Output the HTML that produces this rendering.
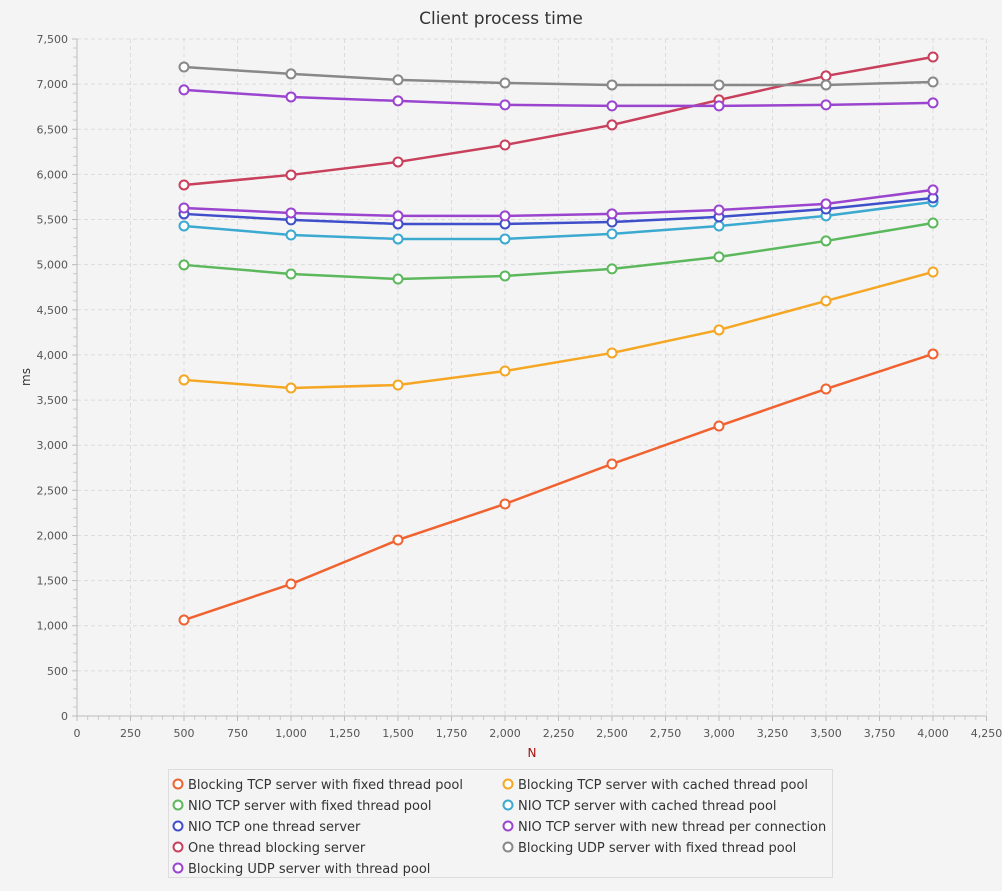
<!DOCTYPE html>
<html><head><meta charset="utf-8"><style>
body{margin:0;background:#f4f4f4;font-family:"Liberation Sans","DejaVu Sans",sans-serif}
svg text{font-family:"DejaVu Sans","Liberation Sans",sans-serif}
</style></head><body>
<svg id="chart" width="1002" height="886" xmlns="http://www.w3.org/2000/svg">
<rect width="1002" height="886" fill="#f4f4f4"/>
<text x="501" y="24" text-anchor="middle" font-size="17" fill="#333">Client process time</text>
<g id="grid"></g><g id="axes"></g><g id="series"></g>
<text transform="translate(30,377) rotate(-90)" text-anchor="middle" font-size="12" fill="#333">ms</text>
<text x="532" y="757" text-anchor="middle" font-size="12" fill="#a01010">N</text>
<rect x="168.5" y="769.5" width="664" height="108" fill="#f4f4f4" stroke="#ddd"/>
<g id="legend"></g>
</svg>
<script>
const categories=[500,1000,1500,2000,2500,3000,3500,4000];
const seriesNames=["Blocking TCP server with fixed thread pool","Blocking TCP server with cached thread pool","NIO TCP server with fixed thread pool","NIO TCP server with cached thread pool","NIO TCP one thread server","NIO TCP server with new thread per connection","One thread blocking server","Blocking UDP server with fixed thread pool","Blocking UDP server with thread pool"];
const sBlockFixed=[1063,1462,1950,2349,2792,3213,3623,4011];
const sBlockCached=[3723,3634,3667,3822,4022,4277,4598,4919];
const sNioFixed=[4997,4897,4841,4875,4953,5086,5263,5462];
const sNioCached=[5429,5329,5285,5285,5341,5429,5540,5695];
const sNioOne=[5562,5496,5451,5451,5473,5529,5617,5739];
const sNioNew=[5628,5573,5540,5540,5562,5606,5673,5828];
const sOneThread=[5883,5994,6138,6326,6548,6825,7091,7301];
const sUdpFixed=[7190,7113,7047,7013,6991,6991,6991,7024];
const sUdpPool=[6936,6858,6814,6770,6759,6759,6770,6792];
const seriesValues=[sBlockFixed,sBlockCached,sNioFixed,sNioCached,sNioOne,sNioNew,sOneThread,sUdpFixed,sUdpPool];
const colors=["#f0622f","#f5a623","#5cb85c","#3ba9d0","#3f4fc9","#9b45cf","#c8405c","#888888","#9b45cf"];
const xTicks=[0,250,500,750,1000,1250,1500,1750,2000,2250,2500,2750,3000,3250,3500,3750,4000,4250];
const yTicks=[0,500,1000,1500,2000,2500,3000,3500,4000,4500,5000,5500,6000,6500,7000,7500];
const NS="http://www.w3.org/2000/svg";
const X0=77,X1=986.5,Y0=716,Y1=39;
const xs=v=>X0+(X1-X0)*v/4250, ys=v=>Y0-(Y0-Y1)*v/7500;
function mk(tag,attrs,parent){const e=document.createElementNS(NS,tag);for(const k in attrs)e.setAttribute(k,attrs[k]);parent.appendChild(e);return e;}
const grid=document.getElementById('grid'),axes=document.getElementById('axes'),ser=document.getElementById('series'),leg=document.getElementById('legend');
const fmt=v=>v.toLocaleString('en-US');
xTicks.forEach(t=>{const x=xs(t);
 if(t>0){const g=mk('line',{x1:x,x2:x,y1:Y1,y2:Y0,stroke:'#dcdcdc','stroke-dasharray':'4,3'},grid);}
 mk('line',{x1:x,x2:x,y1:Y0,y2:Y0+5,stroke:'#bbb'},axes);
 const tx=mk('text',{x:x,y:Y0+21,'text-anchor':'middle','font-size':'11',fill:'#555'},axes);tx.textContent=fmt(t);
 });
for(let v=50;v<4250;v+=50){if(v%250)mk('line',{x1:xs(v),x2:xs(v),y1:Y0,y2:Y0+4,stroke:'#ccc'},axes);}
yTicks.forEach(t=>{const y=ys(t);
 if(t>0){const g=mk('line',{x1:X0,x2:X1,y1:y,y2:y,stroke:'#dcdcdc','stroke-dasharray':'4,3'},grid);}
 mk('line',{x1:X0-5,x2:X0,y1:y,y2:y,stroke:'#bbb'},axes);
 const tx=mk('text',{x:X0-9,y:y+4,'text-anchor':'end','font-size':'11',fill:'#555'},axes);tx.textContent=fmt(t);
 });
for(let v=100;v<7500;v+=100){if(v%500)mk('line',{x1:X0-4,x2:X0,y1:ys(v),y2:ys(v),stroke:'#ccc'},axes);}
mk('line',{x1:X0,x2:X0,y1:Y1,y2:Y0,stroke:'#bbb'},axes);
mk('line',{x1:X0,x2:X1,y1:Y0,y2:Y0,stroke:'#bbb'},axes);
seriesValues.forEach((vals,i)=>{
 const pts=vals.map((v,j)=>xs(categories[j])+','+ys(v)).join(' ');
 const pl=mk('polyline',{points:pts,fill:'none',stroke:colors[i],'stroke-width':'2.5'},ser);
 
 vals.forEach((v,j)=>{const c=mk('circle',{cx:xs(categories[j]),cy:ys(v),r:4.5,fill:'#fff',stroke:colors[i],'stroke-width':'2'},ser);
  });
});
seriesNames.forEach((n,i)=>{const col=i%2,row=Math.floor(i/2);const x=col?508:178,y=784+row*21;
 const g=mk('g',{},leg);
 mk('circle',{cx:x,cy:y,r:4.5,fill:'#fff',stroke:colors[i],'stroke-width':'2'},g);
 const t=mk('text',{x:x+10,y:y+5,'font-size':'13',fill:'#333'},g);t.textContent=n;});
</script>
</body></html>
